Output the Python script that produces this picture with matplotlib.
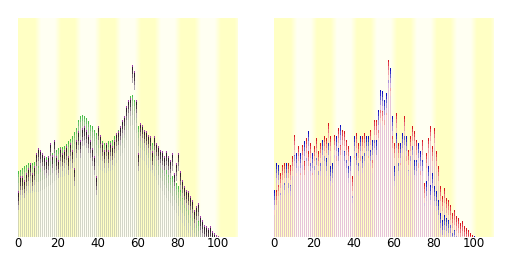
import numpy as np
import matplotlib
matplotlib.use("Agg")
import matplotlib.pyplot as plt

ages = np.arange(0, 101)

# left chart: municipality total (purple) vs national (green), arbitrary units
town_total = [137, 182, 182, 172, 192, 207, 222, 192, 212, 252,
              267, 262, 252, 242, 232, 242, 282, 247, 292, 242,
              232, 267, 252, 262, 272, 242, 282, 262, 207, 292,
              317, 292, 327, 332, 322, 307, 292, 267, 242, 182,
              332, 307, 282, 262, 282, 262, 282, 272, 292, 312,
              317, 332, 352, 362, 392, 412, 417, 517, 497, 412,
              252, 342, 337, 322, 317, 307, 302, 257, 302, 282,
              272, 262, 257, 242, 257, 242, 232, 252, 192, 222,
              252, 197, 172, 152, 142, 137, 122, 112, 82, 92,
              102, 62, 52, 37, 32, 27, 32, 17, 12, 7, 2]
national = [197, 202, 207, 212, 217, 222, 222, 222, 224, 225,
            225, 229, 232, 235, 239, 242, 247, 252, 257, 262,
            267, 269, 271, 272, 280, 287, 294, 302, 314, 327,
            352, 362, 367, 362, 357, 347, 337, 332, 322, 312,
            302, 292, 287, 282, 282, 287, 287, 292, 302, 312,
            322, 332, 342, 357, 382, 412, 422, 427, 412, 402,
            332, 327, 322, 317, 307, 297, 287, 282, 272, 262,
            247, 237, 227, 217, 207, 197, 192, 182, 172, 162,
            152, 142, 132, 122, 112, 102, 92, 82, 72, 62,
            52, 44, 36, 28, 22, 16, 12, 8, 5, 3, 1]

# right chart: male (blue) vs female (red)
male = [140, 222, 217, 172, 207, 187, 222, 192, 182, 232,
        272, 252, 257, 252, 262, 287, 272, 317, 242, 252,
        247, 262, 232, 242, 292, 272, 242, 292, 212, 222,
        297, 302, 272, 337, 307, 272, 252, 222, 242, 162,
        302, 262, 242, 302, 252, 272, 302, 302, 272, 292,
        312, 292, 382, 442, 437, 412, 432, 507, 507, 362,
        212, 312, 242, 282, 312, 322, 302, 242, 272, 292,
        232, 242, 282, 257, 242, 152, 167, 212, 157, 192,
        152, 137, 112, 72, 52, 67, 62, 57, 57, 32,
        37, 37, 22, 22, 17, 12, 7, 4, 2, 4, 4]
female = [127, 142, 167, 192, 217, 222, 212, 222, 217, 242,
          307, 242, 272, 232, 277, 232, 297, 257, 282, 232,
          272, 297, 257, 282, 287, 302, 297, 342, 302, 217,
          307, 272, 327, 292, 322, 317, 292, 272, 232, 182,
          282, 312, 282, 272, 302, 312, 292, 282, 322, 252,
          352, 352, 342, 402, 392, 382, 412, 532, 482, 312,
          282, 372, 282, 262, 302, 362, 272, 262, 302, 332,
          317, 292, 252, 232, 292, 162, 252, 297, 332, 272,
          327, 257, 212, 152, 122, 147, 117, 112, 97, 72,
          82, 62, 57, 42, 47, 32, 27, 22, 12, 7, 2]

ticks = [0, 20, 40, 60, 80, 100]
ymax = 657
w = 0.5

BLUE = ["#d8b8e0", "#a890d8", "#6860d0", "#3030c8", "#1010c0"]
RED = ["#f4c8c8", "#f0a0a8", "#e87080", "#e04050", "#d81820"]
LEN = [60, 45, 30, 18, 8]


def background(ax):
    x = np.linspace(0, 110, 1101)
    band = ((x // 10) % 2).astype(float)
    k = np.ones(31) / 31
    band = np.convolve(np.pad(band, 15, mode="edge"), k, mode="valid")
    yellow = np.array([1.0, 1.0, 0.77])
    light = np.array([1.0, 1.0, 0.95])
    img = yellow[None, :] * (1 - band[:, None]) + light[None, :] * band[:, None]
    ax.imshow(img[None, :, :], extent=[0, 110, 0, ymax], aspect="auto",
              interpolation="bilinear", zorder=0)


def tip(ax, vals, colors, lengths, z):
    # stacked fading segments just under the top of each value
    for c, L in zip(colors, lengths):
        h = np.minimum(vals, L)
        ax.bar(ages, h, bottom=vals - h, width=w, color=c, align="edge",
               zorder=z, linewidth=0)
        z += 0.01


def style(ax):
    ax.set_xlim(0, 110)
    ax.set_ylim(0, ymax)
    ax.set_xticks(ticks)
    ax.set_xticklabels([str(t) for t in ticks], fontsize=8.5)
    ax.tick_params(length=0, pad=0)
    ax.set_yticks([])
    for s in ax.spines.values():
        s.set_visible(False)


fig = plt.figure(figsize=(5.12, 2.56), dpi=100)
ax1 = fig.add_axes([18 / 512, 19 / 256, 220 / 512, 219 / 256])
ax2 = fig.add_axes([274 / 512, 19 / 256, 220 / 512, 219 / 256])

t = np.array(town_total, float)
n = np.array(national, float)
m = np.array(male, float)
f = np.array(female, float)

# left
background(ax1)
ax1.bar(ages, n, width=w, color="#b0b4a8", alpha=0.55, align="edge", zorder=1, linewidth=0)
tip(ax1, n, ["#c4c8bc", "#b0c0a8", "#98c090", "#70c070", "#48c048"], [90, 60, 35, 18, 7], 2)
tip(ax1, t, ["#b0a8b0", "#807080", "#4a3a4a", "#302030", "#a040a8"], [55, 40, 28, 16, 6], 3)
style(ax1)

# right
background(ax2)
ax2.bar(ages, np.maximum(m, f), width=w, color="#d8a0cc", alpha=0.62, align="edge",
        zorder=1, linewidth=0)
tip(ax2, m, BLUE, LEN, 3)
tip(ax2, f, RED, LEN, 3)
# the higher of the two sits on top
tip(ax2, np.where(m > f, m, 0), BLUE, LEN, 4)
tip(ax2, np.where(f >= m, f, 0), RED, LEN, 4)
style(ax2)

fig.savefig("out.png", dpi=100)
